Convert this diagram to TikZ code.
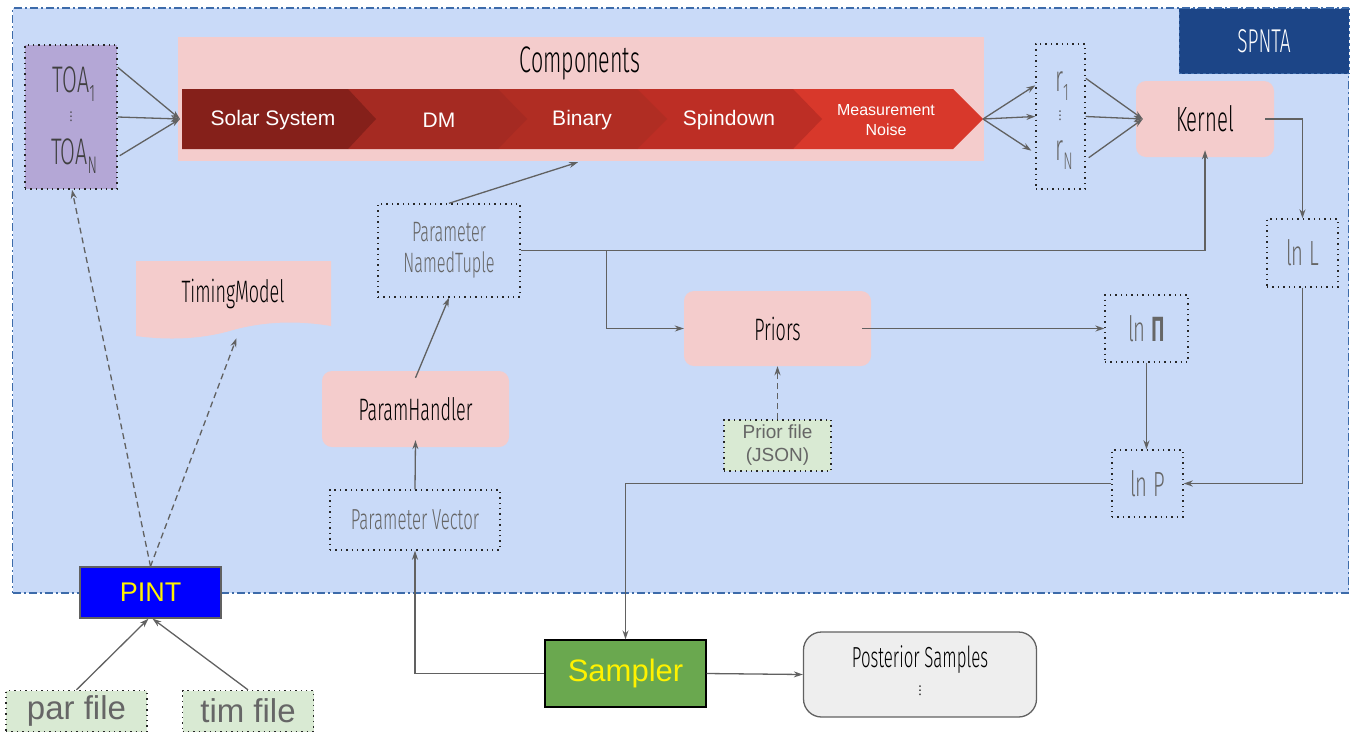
\documentclass[tikz,border=0pt]{standalone}
\usepackage{fontspec}
\setmainfont{Liberation Sans}
\newfontfamily\cf[FakeStretch=0.58]{Fira Sans Light}
\newfontfamily\dvs{DejaVu Sans}
\usetikzlibrary{arrows.meta,calc}
\definecolor{bgblue}{HTML}{C9DAF8}
\definecolor{bordblue}{HTML}{3D6BAA}
\definecolor{darkblue}{HTML}{1C4587}
\definecolor{pinkc}{HTML}{F4CCCC}
\definecolor{purp}{HTML}{B4A7D6}
\definecolor{greenc}{HTML}{D9EAD3}
\definecolor{linegray}{HTML}{616161}
\definecolor{txtgray}{HTML}{666666}
\definecolor{chA}{HTML}{85201A}
\definecolor{chB}{HTML}{A52A22}
\definecolor{chC}{HTML}{B02D23}
\definecolor{chD}{HTML}{BD2E25}
\definecolor{chE}{HTML}{D8382B}
\definecolor{sampg}{HTML}{6AA84F}
\definecolor{postg}{HTML}{EEEEEE}
\newcommand\fsz[2]{\fontsize{#1}{#2}\selectfont}
\newcommand\lowsub[2]{\raisebox{#1}{\fsz{24}{24}#2}}
\begin{document}
\begin{tikzpicture}[x=1pt,y=-1pt,
  arr/.style={draw=linegray, line width=1.3pt, -{Stealth[length=9pt,width=6pt]}},
  dsh/.style={arr, dash pattern=on 6pt off 4pt},
  dotbox/.style={draw=black!85, line width=1.4pt, dash pattern=on 1.4pt off 4pt, inner sep=0pt},
  pinkbox/.style={fill=pinkc, rounded corners=10pt, inner sep=0pt},
  filebox/.style={dotbox, fill=greenc},
  ctext/.style={font=\cf\fsz{31}{34}, text=black},
  gtext/.style={font=\cf\fsz{29}{32}, text=txtgray},
  chtext/.style={font=\fsz{21}{24}, text=white},
  dots/.style={inner sep=0pt, font=\dvs\fsz{12}{12}}
]
\useasboundingbox (0,0) rectangle (1351,732);

% SPNTA region
\node[fill=bgblue, draw=bordblue, line width=1.3pt, dash pattern=on 8pt off 3pt on 2pt off 3pt,
  minimum width=1336pt, minimum height=585pt, inner sep=0pt] (spnta) at (680.5,300.5) {};
\node[fill=darkblue, draw=bordblue, line width=1pt, dashed, minimum width=170pt, minimum height=65pt,
  inner sep=0pt, text=white, font=\cf\fsz{33}{36}] (spntalbl) at (1264,41) {SPNTA};

% Components
\node[fill=pinkc, minimum width=806pt, minimum height=124pt, inner sep=0pt] (comp) at (581,99) {};
\node[font=\cf\fsz{37}{40}] (comptitle) at (580,63) {Components};
\fill[chE] (793,89) -- (953,89) -- (983,119) -- (953,149) -- (793,149) -- cycle;
\fill[chD] (637,89) -- (793,89) -- (822,119) -- (793,149) -- (637,149) -- cycle;
\fill[chC] (498,89) -- (637,89) -- (667,119) -- (637,149) -- (498,149) -- cycle;
\fill[chB] (348,89) -- (498,89) -- (527,119) -- (498,149) -- (348,149) -- cycle;
\fill[chA] (182,89) -- (348,89) -- (376,119) -- (348,149) -- (182,149) -- cycle;
\node[chtext] (ss) at (273,120) {Solar System};
\node[chtext] (dm) at (439,120) {DM};
\node[chtext] (bin) at (582,120) {Binary};
\node[chtext] (spd) at (729,120) {Spindown};
\node[font=\fsz{16}{20}, text=white, align=center] (mn) at (886,120) {Measurement\\Noise};
\coordinate (mntip) at (983,119);
\coordinate (compin) at (180,119);

% TOA box
\node[dotbox, fill=purp, minimum width=92pt, minimum height=144pt] (toa) at (71,117) {};
\node[inner sep=0pt, font=\cf\fsz{37}{40}, text=black!75] (toa1) at (74,84) {TOA\lowsub{-9pt}{1}};
\node[dots, text=black!75] (toadots) at (71,117) {⋮};
\node[inner sep=0pt, font=\cf\fsz{37}{40}, text=black!75] (toaN) at (74,156) {TOA\lowsub{-9pt}{N}};

% r box
\node[dotbox, minimum width=49pt, minimum height=145pt] (rbox) at (1060.5,116.5) {};
\node[inner sep=0pt, font=\cf\fsz{37}{40}, text=txtgray] (r1) at (1062,86) {r\lowsub{-9pt}{1}};
\node[dots, text=black!75] (rdots) at (1060,116) {⋮};
\node[inner sep=0pt, font=\cf\fsz{37}{40}, text=txtgray] (rN) at (1064,155) {r\lowsub{-9pt}{N}};

% Kernel
\node[pinkbox, ctext, font=\cf\fsz{35}{38}, minimum width=138pt, minimum height=76pt] (kernel) at (1205,119) {Kernel};

% ln boxes
\node[dotbox, gtext, font=\cf\fsz{35}{38}, minimum width=71pt, minimum height=68pt] (lnL) at (1302.5,253) {ln L};
\node[dotbox, gtext, font=\cf\fsz{35}{38}, minimum width=83pt, minimum height=67pt] (lnPi) at (1146.5,328.5) {ln \textbf{Π}};
\node[dotbox, gtext, font=\cf\fsz{35}{38}, minimum width=71pt, minimum height=67pt] (lnP) at (1147.5,483.5) {ln P};

% Priors
\node[pinkbox, ctext, minimum width=187pt, minimum height=75pt] (priors) at (777.5,328.5) {Priors};
\node[filebox, minimum width=107pt, minimum height=51pt, text=txtgray, font=\fsz{19}{23}, align=center] (prior) at (777.5,445.5) {Prior file\\(JSON)};

% Parameter NamedTuple
\node[dotbox, gtext, font=\cf\fsz{28}{31}, align=center, minimum width=142pt, minimum height=93pt] (nt) at (449,250.5) {Parameter\\NamedTuple};

% TimingModel
\fill[pinkc] (136,261) -- (331,261) -- (331,326) .. controls (295,320) and (262,322) .. (233,330)
  .. controls (200,340) and (165,340) .. (136,336) -- cycle;
\node[minimum width=195pt, minimum height=75pt, inner sep=0pt] (tm) at (233.5,298.5) {};
\node[ctext] (tmtext) at (233,294) {TimingModel};

% ParamHandler
\node[pinkbox, ctext, minimum width=187pt, minimum height=76pt] (ph) at (415.5,409) {ParamHandler};

% Parameter Vector
\node[dotbox, gtext, minimum width=170pt, minimum height=60pt] (pv) at (415,520) {Parameter Vector};

% Sampler, Posterior
\node[fill=sampg, draw=black, line width=1.3pt, minimum width=161pt, minimum height=67pt, inner sep=0pt,
  text=yellow, font=\fsz{31}{35}] (sampler) at (625.5,673.5) {Sampler};
\node[fill=postg, draw=linegray, line width=1.3pt, rounded corners=18pt, minimum width=233pt, minimum height=85pt, inner sep=0pt] (post) at (920,674.5) {};
\node[inner sep=0pt, font=\cf\fsz{29}{32}] (posttext) at (920,660) {Posterior Samples};
\node[dots] (postdots) at (920,691) {⋮};

% PINT and files
\node[fill=blue, draw=linegray, line width=1.3pt, minimum width=141pt, minimum height=51pt, inner sep=0pt,
  text=yellow, font=\fsz{27}{31}] (pint) at (150.5,592.5) {PINT};
\node[filebox, minimum width=141pt, minimum height=41pt, text=txtgray, font=\fsz{33}{36}] (par) at (76.5,711) {par file};
\node[filebox, minimum width=131pt, minimum height=41pt, text=txtgray, font=\fsz{33}{36}] (tim) at (248,711) {tim file};

% Connectors
\draw[arr] ($(toa.north east)+(0,23)$) -- (compin);
\draw[arr] (toa.east) -- (compin);
\draw[arr] ($(toa.south east)+(2,-34)$) -- (compin);
\draw[arr] (mntip) -- ($(rbox.north west)+(0,42)$);
\draw[arr] (mntip) -- (rbox.west);
\draw[arr] (mntip) -- ($(rbox.south west)+(-4,-39)$);
\draw[arr] ($(rbox.north east)+(0,35)$) -- ($(kernel.west)+(7,0)$);
\draw[arr] (rbox.east) -- ($(kernel.west)+(7,0)$);
\draw[arr] ($(rbox.south east)+(3,-32)$) -- ($(kernel.west)+(7,0)$);
\draw[arr] ($(kernel.east)+(-9,0)$) -| (lnL.north);
\draw[arr] (lnL.south) |- (lnP.east);
\draw[arr] (lnPi.south) -- (lnPi.south |- lnP.north);
\draw[arr] ($(priors.east)+(-9,0)$) -- (lnPi.west);
\draw[dsh] (prior.north) -- (priors.south);
\draw[arr] (nt.east) -| ($(kernel.south)+(0,-7)$);
\draw[arr] ($(nt.east)+(86,0)$) |- (priors.west);
\draw[arr] (nt.north) -- ($(comp.south)+(-3,1)$);
\draw[arr] ($(ph.north)+(0,7)$) -- (nt.south);
\draw[arr] (pv.north) -- ($(ph.south)+(0,-7)$);
\draw[arr] (sampler.west) -| (pv.south);
\draw[arr] (lnP.west) -| (sampler.north);
\draw[arr] (sampler.east) -- (post.west);
\draw[arr] (par.north) -- ($(pint.south)+(-2,0)$);
\draw[arr] (tim.north) -- ($(pint.south)+(2,0)$);
\draw[dsh] (pint.north) -- ($(toa.south)+(1,0)$);
\draw[dsh] (pint.north) -- ($(tm.south)+(3,2)$);
\end{tikzpicture}
\end{document}
